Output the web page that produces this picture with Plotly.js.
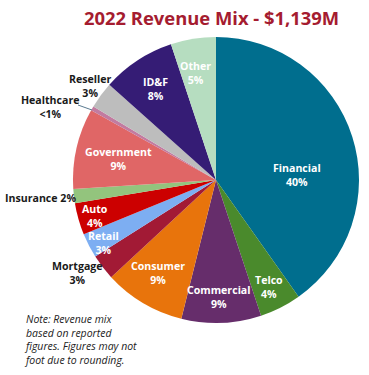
<!DOCTYPE html>
<html>
<head>
<meta charset="utf-8">
<script src="https://cdn.plot.ly/plotly-3.0.1.min.js"></script>
<style>html,body{margin:0;padding:0;background:#fff;}#chart{width:369px;height:375px;}</style>
</head>
<body>
<div id="chart"></div>
<script>
// Data
const categories = ["Financial","Telco","Commercial","Consumer","Mortgage","Retail","Auto","Insurance","Government","Healthcare","Reseller","ID&F","Other"];
const values = [40.2, 4.7, 9.0, 9.2, 2.9, 2.8, 3.6, 1.6, 9.1, 0.5, 3.0, 8.3, 5.1];
const pctLabels = ["40%","4%","9%","9%","3%","3%","4%","2%","9%","<1%","3%","8%","5%"];
const titleText = "2022 Revenue Mix - $1,139M";
const noteText = "Note: Revenue mix<br>based on reported<br>figures. Figures may not<br>foot due to rounding.";

// Styling / layout
const colors = ["#006E8E","#4A8A2C","#662D6B","#E8740C","#A21A35","#7DAEF2","#CC0000","#93C47D","#E06666","#C27BA0","#BDBDBD","#351C75","#B6DDC0"];
const W = 369, H = 375;
// label placement: [x px, y px of centre, inside(white)?, single line?]
const labelPos = [
  [297,175,true,false],
  [269,287,true,false],
  [219,297,true,false],
  [158,273,true,false],
  [77,273,false,false],
  [103,243,true,false],
  [95,216,true,false],
  [40,198,false,true],
  [118,159,true,false],
  [50,107,false,false],
  [90,86,false,false],
  [155,89,true,false],
  [195,73,true,false]
];
const px = x => x / W, py = y => 1 - y / H;

const annotations = categories.map((c, i) => {
  const p = labelPos[i];
  const txt = p[3] ? `<b>${c} ${pctLabels[i]}</b>` : `<b>${c}<br>${pctLabels[i]}</b>`;
  return {
    x: px(p[0]), y: py(p[1]), xref: 'paper', yref: 'paper',
    text: txt, showarrow: false, xanchor: 'center', yanchor: 'middle',
    font: {family: 'Open Sans', size: 10.6, color: p[2] ? '#FFFFFF' : '#1a1a1a'}
  };
});
annotations.push({
  x: px(22), y: py(310), xref: 'paper', yref: 'paper', xanchor: 'left', yanchor: 'top', align: 'left',
  text: `<i>${noteText}</i>`, showarrow: false,
  font: {family: 'Open Sans', size: 10.5, color: '#222'}
});
annotations.push({
  x: px(211), y: py(17), xref: 'paper', yref: 'paper', xanchor: 'center', yanchor: 'middle',
  text: `<b>${titleText}</b>`, showarrow: false,
  font: {family: 'Open Sans', size: 18.4, color: '#A51C30'}
});

const cx = 216, cy = 180, r = 143;
const trace = {
  type: 'pie',
  labels: categories,
  values: values,
  sort: false,
  direction: 'clockwise',
  rotation: 0,
  textinfo: 'none',
  hoverinfo: 'label+percent',
  marker: {colors: colors, line: {width: 0}},
  domain: {x: [px(cx - r), px(cx + r)], y: [py(cy + r), py(cy - r)]}
};

const layout = {
  width: W, height: H,
  margin: {l: 0, r: 0, t: 0, b: 0},
  showlegend: false,
  paper_bgcolor: '#fff',
  annotations: annotations,
  shapes: [{type: 'line', xref: 'paper', yref: 'paper', x0: px(78), y0: py(105), x1: px(92), y1: py(110), line: {color: '#5a7a90', width: 1}}]
};

Plotly.newPlot('chart', [trace], layout, {displayModeBar: false, staticPlot: true});
</script>
</body>
</html>
